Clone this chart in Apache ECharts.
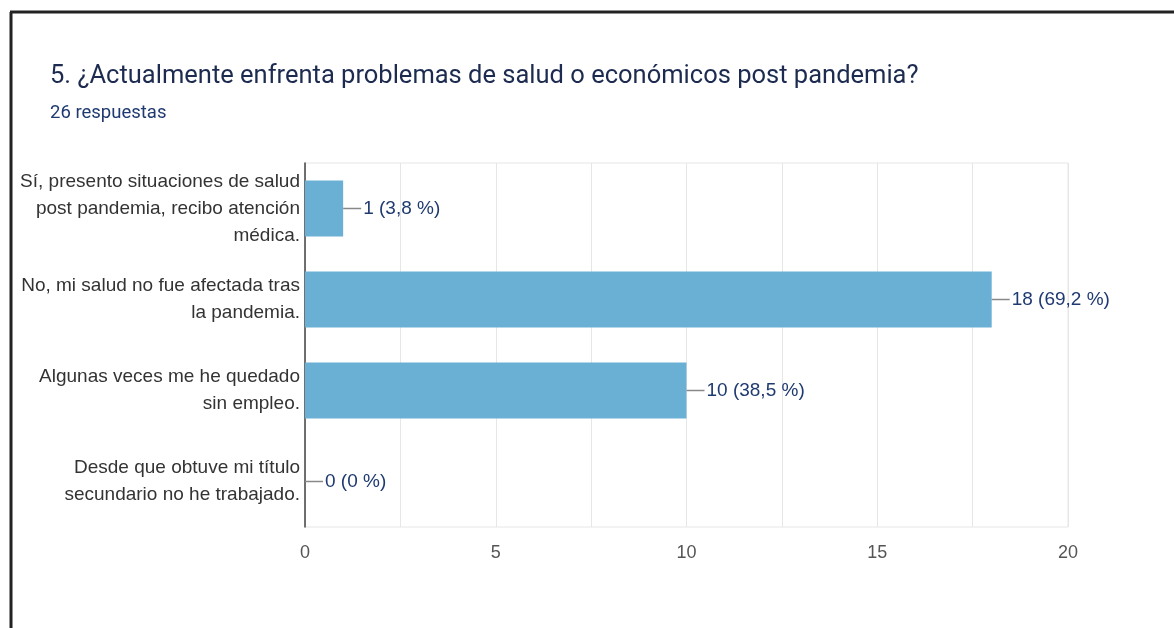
<!DOCTYPE html>
<html>
<head>
<meta charset="utf-8">
<script src="https://cdn.jsdelivr.net/npm/echarts@6/dist/echarts.min.js"></script>
<style>
  html, body { margin: 0; padding: 0; background: #fff; }
  #chart { width: 1174px; height: 628px; }
</style>
</head>
<body>
<div id="chart"></div>
<script>
// datos
const categorias = [
  'Sí, presento situaciones de salud\npost pandemia, recibo atención\nmédica.',
  'No, mi salud no fue afectada tras\nla pandemia.',
  'Algunas veces me he quedado\nsin empleo.',
  'Desde que obtuve mi título\nsecundario no he trabajado.'
];
const respuestas = [1, 18, 10, 0];
const totalRespuestas = 26;
const ticksX = [0, 5, 10, 15, 20];

function pct(v) {
  if (v === 0) return '0 %';
  return (v / totalRespuestas * 100).toFixed(1).replace('.', ',') + ' %';
}

let chart = echarts.init(document.getElementById('chart'));
let option = {
  backgroundColor: '#fff',
  title: {
    text: '5. ¿Actualmente enfrenta problemas de salud o económicos post pandemia?',
    subtext: '26 respuestas',
    left: 45,
    top: 59,
    itemGap: 14,
    textStyle: { fontFamily: 'Roboto', fontSize: 25.5, fontWeight: 'normal', color: '#1c2b4f' },
    subtextStyle: { fontFamily: 'Roboto', fontSize: 18.5, color: '#1f3a70' }
  },
  graphic: [
    // marco de la captura
    { type: 'line', shape: { x1: 10, y1: 12, x2: 1174, y2: 12 }, style: { stroke: '#222', lineWidth: 3 } },
    { type: 'line', shape: { x1: 11, y1: 12, x2: 11, y2: 628 }, style: { stroke: '#222', lineWidth: 3 } }
  ],
  grid: {
    left: 305,
    right: 106,
    top: 163,
    bottom: 101,
    show: true,
    borderColor: '#e6e6e6',
    borderWidth: 1
  },
  xAxis: {
    type: 'value',
    min: 0,
    max: 20,
    interval: 2.5,
    axisLine: { show: false },
    axisTick: { show: false },
    splitLine: { lineStyle: { color: '#e6e6e6', width: 1 } },
    axisLabel: {
      margin: 17,
      fontFamily: 'Liberation Sans',
      fontSize: 18,
      color: '#555',
      formatter: v => ticksX.indexOf(v) >= 0 ? String(v) : ''
    }
  },
  yAxis: {
    type: 'category',
    inverse: true,
    data: categorias,
    axisTick: { show: false },
    axisLine: { lineStyle: { color: '#444', width: 1.5 } },
    axisLabel: {
      margin: 5,
      fontFamily: 'Liberation Sans',
      fontSize: 19,
      lineHeight: 27,
      color: '#333',
      align: 'right',
      padding: [10, 0, 0, 0]
    }
  },
  series: [
    {
      type: 'bar',
      data: respuestas,
      barWidth: 56,
      itemStyle: { color: '#6ab0d5' },
      label: {
        show: true,
        position: 'right',
        distance: 0,
        formatter: p => '{ln| }{t|' + p.value + ' (' + pct(p.value) + ')}',
        rich: {
          ln: { width: 18, height: 1.5, backgroundColor: '#888', verticalAlign: 'middle' },
          t: { fontFamily: 'Liberation Sans', fontSize: 19, color: '#1f3a70', padding: [0, 0, 0, 2] }
        }
      }
    }
  ]
};
chart.setOption(option);
</script>
</body>
</html>
